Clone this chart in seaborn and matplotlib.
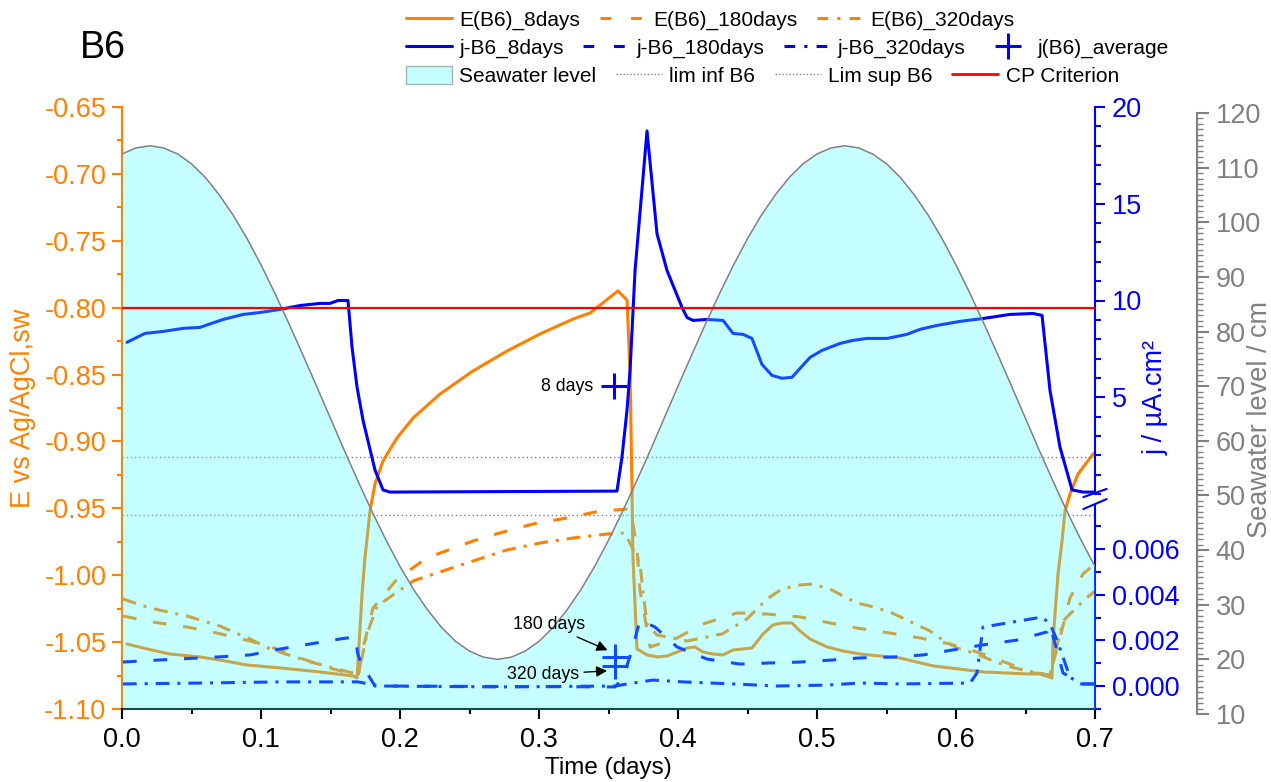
import matplotlib
matplotlib.use("Agg")
import matplotlib.pyplot as plt
from matplotlib.patches import Patch
from matplotlib.lines import Line2D
from matplotlib.ticker import MultipleLocator, FixedLocator, FormatStrFormatter
import seaborn as sns

# ---------------- data ----------------
sea_t = [0.00, 0.01, 0.02, 0.03, 0.04, 0.05, 0.06, 0.07, 0.08, 0.09,
         0.10, 0.11, 0.12, 0.13, 0.14, 0.15, 0.16, 0.17, 0.18, 0.19,
         0.20, 0.21, 0.22, 0.23, 0.24, 0.25, 0.26, 0.27, 0.28, 0.29,
         0.30, 0.31, 0.32, 0.33, 0.34, 0.35, 0.36, 0.37, 0.38, 0.39,
         0.40, 0.41, 0.42, 0.43, 0.44, 0.45, 0.46, 0.47, 0.48, 0.49,
         0.50, 0.51, 0.52, 0.53, 0.54, 0.55, 0.56, 0.57, 0.58, 0.59,
         0.60, 0.61, 0.62, 0.63, 0.64, 0.65, 0.66, 0.67, 0.68, 0.69, 0.70]
sea_level = [112.5, 113.6, 114.0, 113.6, 112.5, 110.7, 108.2, 105.0, 101.3, 97.0,
             92.2, 87.0, 81.5, 75.8, 70.0, 64.1, 58.2, 52.5, 47.0, 41.8,
             37.0, 32.7, 29.0, 25.8, 23.3, 21.5, 20.4, 20.0, 20.4, 21.5,
             23.3, 25.8, 29.0, 32.7, 37.0, 41.8, 47.0, 52.5, 58.2, 64.1,
             70.0, 75.8, 81.5, 87.0, 92.2, 97.0, 101.3, 105.0, 108.2, 110.7,
             112.5, 113.6, 114.0, 113.6, 112.5, 110.7, 108.2, 105.0, 101.3, 97.0,
             92.2, 87.0, 81.5, 75.8, 70.0, 64.1, 58.2, 52.5, 47.0, 41.8, 37.0]

e8_t = [0.0036, 0.018, 0.0345, 0.0561, 0.0705, 0.0899, 0.1137, 0.1424, 0.1662, 0.1691,
        0.1698, 0.1727, 0.1748, 0.1784, 0.182, 0.1878, 0.1978, 0.2094, 0.2288, 0.2525,
        0.277, 0.3007, 0.3245, 0.3367, 0.3568, 0.3633, 0.3655, 0.3669, 0.3676, 0.3705,
        0.3777, 0.3856, 0.3921, 0.4014, 0.4065, 0.4122, 0.418, 0.4252, 0.4324, 0.4396,
        0.4532, 0.4612, 0.4683, 0.4748, 0.482, 0.4878, 0.495, 0.5072, 0.5187, 0.5309,
        0.5597, 0.5835, 0.6194, 0.6511, 0.6604, 0.6691, 0.6698, 0.6734, 0.6763, 0.6784,
        0.682, 0.6878, 0.6986, 0.70]
e8_v = [-1.0514, -1.0551, -1.0589, -1.0611, -1.0634, -1.0671, -1.0693, -1.0723, -1.0753, -1.0768,
        -1.0641, -1.0140, -0.9871, -0.9520, -0.9318, -0.9146, -0.8974, -0.8825, -0.8645, -0.8473,
        -0.8324, -0.8197, -0.8085, -0.8040, -0.7875, -0.7943, -0.8473, -0.9348, -0.9871, -1.0551,
        -1.0596, -1.0611, -1.0604, -1.0566, -1.0544, -1.0536, -1.0574, -1.0589, -1.0596, -1.0559,
        -1.0544, -1.0439, -1.0372, -1.0357, -1.0357, -1.0417, -1.0477, -1.0536, -1.0566, -1.0589,
        -1.0619, -1.0678, -1.0723, -1.0738, -1.0738, -1.0768, -1.0492, -0.9991, -0.9744, -0.9520,
        -0.9393, -0.9243, -0.9094, -0.9086]

e180_t = [0.0007, 0.0223, 0.0468, 0.0683, 0.0921, 0.1115, 0.1302, 0.1518, 0.1662, 0.170,
          0.1734, 0.1806, 0.1978, 0.2194, 0.2525, 0.2719, 0.2957, 0.3201, 0.3439, 0.3655,
          0.3676, 0.3705, 0.3727, 0.3741, 0.3799, 0.3993, 0.418, 0.4424, 0.464, 0.4878,
          0.5094, 0.5288, 0.5525, 0.5741, 0.5957, 0.6173, 0.6367, 0.6554, 0.6676, 0.6748,
          0.682, 0.6914, 0.70]
e180_v = [-1.0305, -1.0350, -1.0387, -1.0432, -1.0492, -1.0551, -1.0626, -1.0701, -1.0738, -1.0753,
          -1.0544, -1.0245, -1.0030, -0.9870, -0.9744, -0.9684, -0.9617, -0.9572, -0.9520, -0.9505,
          -0.9617, -0.9797, -1.0118, -1.0193, -1.0537, -1.0469, -1.0365, -1.0282, -1.0290, -1.0312,
          -1.0357, -1.0395, -1.0432, -1.0469, -1.0514, -1.0581, -1.0656, -1.0731, -1.0738, -1.0469,
          -1.0170, -0.9990, -0.9916]

e320_t = [0.0007, 0.0201, 0.0468, 0.0705, 0.0921, 0.1065, 0.1331, 0.1518, 0.1662, 0.170,
          0.1763, 0.1835, 0.2100, 0.2525, 0.277, 0.3007, 0.3245, 0.3489, 0.3619, 0.3727,
          0.3748, 0.3777, 0.3849, 0.4065, 0.4317, 0.4388, 0.4496, 0.464, 0.4748, 0.4878,
          0.4964, 0.5094, 0.5187, 0.5288, 0.5381, 0.5525, 0.5691, 0.5813, 0.5885, 0.6007,
          0.6151, 0.6266, 0.6367, 0.6511, 0.6626, 0.6676, 0.677, 0.6914, 0.70]
e320_v = [-1.0178, -1.0245, -1.0305, -1.0380, -1.0477, -1.0551, -1.0641, -1.0693, -1.0731, -1.0746,
          -1.0439, -1.0230, -1.0040, -0.9894, -0.9811, -0.9759, -0.9722, -0.9692, -0.9684, -0.9916,
          -1.0118, -1.0365, -1.0447, -1.0492, -1.0439, -1.0395, -1.0327, -1.0178, -1.0103, -1.0073,
          -1.0066, -1.0103, -1.0155, -1.0208, -1.0230, -1.0275, -1.0357, -1.0417, -1.0469, -1.0544,
          -1.0589, -1.0641, -1.0678, -1.0716, -1.0738, -1.0746, -1.0342, -1.0193, -1.0118]

j8_t = [0.0036, 0.0165, 0.0295, 0.0439, 0.0561, 0.0727, 0.0871, 0.0993, 0.1137, 0.1281,
        0.1424, 0.1496, 0.1554, 0.1626, 0.1655, 0.1691, 0.1734, 0.182, 0.1878, 0.1928,
        0.3561, 0.3597, 0.3633, 0.3655, 0.3691, 0.3777, 0.3849, 0.3921, 0.4029, 0.4065,
        0.4108, 0.4209, 0.4324, 0.4396, 0.4468, 0.4532, 0.4604, 0.4676, 0.4748, 0.4820,
        0.4950, 0.5036, 0.5165, 0.5259, 0.5360, 0.5504, 0.5647, 0.5741, 0.5863, 0.6029,
        0.6194, 0.6388, 0.6554, 0.6619, 0.6676, 0.6748, 0.6835, 0.6914, 0.70]
j8_v = [7.84, 8.30, 8.40, 8.56, 8.61, 9.02, 9.28, 9.38, 9.54, 9.74,
        9.85, 9.85, 10.0, 10.0, 7.58, 5.52, 3.81, 1.24, 0.21, 0.10,
        0.15, 1.91, 4.33, 6.39, 11.55, 18.76, 13.45, 11.55, 9.64, 9.12,
        8.97, 9.02, 8.97, 8.30, 8.25, 8.04, 6.70, 6.13, 5.98, 6.03,
        7.06, 7.42, 7.78, 7.94, 8.04, 8.04, 8.25, 8.51, 8.71, 8.92,
        9.07, 9.28, 9.33, 9.23, 5.36, 2.42, 0.21, 0.10, 0.10]

j180_t = [0.0007, 0.0273, 0.0683, 0.0921, 0.1137, 0.1353, 0.1568, 0.1676, 0.1698, 0.1727,
          0.182, 0.3547, 0.3604, 0.3669, 0.3727, 0.3835, 0.3993, 0.4209, 0.4446, 0.4662,
          0.4878, 0.5115, 0.5309, 0.5547, 0.5763, 0.5978, 0.6194, 0.6439, 0.6655, 0.6676,
          0.677, 0.6914, 0.70]
j180_v = [0.00105, 0.00114, 0.00127, 0.00136, 0.00162, 0.00184, 0.00206, 0.00215, 0.00136, 0.00092,
          0.00000, -0.00004, 0.00035, 0.00158, 0.00289, 0.00258, 0.00171, 0.00118, 0.00096, 0.00101,
          0.00105, 0.00114, 0.00123, 0.00127, 0.00136, 0.00158, 0.00180, 0.00201, 0.00237, 0.00267,
          0.00057, 0.00009, 0.00009]

j320_t = [0.0007, 0.0561, 0.1137, 0.1698, 0.1856, 0.2719, 0.3547, 0.3676, 0.3820, 0.4036,
          0.4396, 0.4712, 0.5072, 0.5309, 0.5597, 0.6101, 0.6151, 0.6194, 0.6619, 0.6676,
          0.6727, 0.682, 0.6892, 0.70]
j320_v = [0.00009, 0.00013, 0.00018, 0.00018, 0.00000, -0.00004, 0.00000, 0.00013, 0.00026, 0.00018,
          0.00009, 0.00000, 0.00004, 0.00013, 0.00009, 0.00013, 0.00057, 0.00258, 0.00302, 0.00272,
          0.00201, 0.00039, 0.00009, 0.00009]

avg_labels = ["8 days", "180 days", "320 days"]
avg_t = [0.354, 0.355, 0.355]
avg_j = [5.57, 0.00127, 0.00088]

cp_criterion = -0.80
lim_inf = -0.955
lim_sup = -0.912
full_t = [0.0, 0.7]

x_ticks = [0.0, 0.1, 0.2, 0.3, 0.4, 0.5, 0.6, 0.7]
e_ticks = [-1.10, -1.05, -1.00, -0.95, -0.90, -0.85, -0.80, -0.75, -0.70, -0.65]
j_up_ticks = [5, 10, 15, 20]
j_low_ticks = [0.000, 0.002, 0.004, 0.006]
sea_ticks = [10, 20, 30, 40, 50, 60, 70, 80, 90, 100, 110, 120]

# ---------------- style ----------------
sns.set_theme(style="ticks")
plt.rcParams['font.family'] = ['Liberation Sans', 'DejaVu Sans']
plt.rcParams['axes.unicode_minus'] = False

ORANGE = '#FF8000'
BLUE = '#0000FF'
GRAY = '#808080'
TICK_FS = 19.5

W, H = 1271, 782
fig = plt.figure(figsize=(W / 100, H / 100), dpi=100)
L, Wd = 122 / W, 973 / W
axE = fig.add_axes([L, (H - 709) / H, Wd, 602 / H])
axJu = fig.add_axes([L, (H - 494) / H, Wd, 387 / H])
axJl = fig.add_axes([L, (H - 709) / H, Wd, 204 / H])
axS = fig.add_axes([L, (H - 714) / H, Wd, 601 / H])
for a in (axJu, axJl, axS):
    a.patch.set_visible(False)

DASH = (4.5, 5.5)
DASHDOT = (4.5, 2.6, 1.0, 2.6)


def draw(ax, x, y, color, dashes=None, lw=2.2):
    sns.lineplot(x=x, y=y, ax=ax, color=color, linewidth=lw, sort=False,
                 estimator=None, legend=False)
    ln = ax.lines[-1]
    ln.set_solid_joinstyle('round')
    if dashes is not None:
        ln.set_dashes(dashes)
    return ln


# E lines
draw(axE, e8_t, e8_v, ORANGE)
draw(axE, e180_t, e180_v, ORANGE, DASH)
draw(axE, e320_t, e320_v, ORANGE, DASHDOT)
axE.axhline(lim_inf, color=GRAY, lw=1.0, ls=(0, (1, 2)))
axE.axhline(lim_sup, color=GRAY, lw=1.0, ls=(0, (1, 2)))

# j lines
draw(axJu, j8_t, j8_v, BLUE)
draw(axJl, j180_t, j180_v, BLUE, DASH)
draw(axJl, j320_t, j320_v, BLUE, DASHDOT)
axJu.plot(avg_t[:1], avg_j[:1], ls='none', marker='+', ms=19, mew=2.2, color=BLUE)
axJl.plot(avg_t[1:], avg_j[1:], ls='none', marker='+', ms=19, mew=2.2, color=BLUE)

# limits
for a in (axE, axJu, axJl, axS):
    a.set_xlim(full_t[0], full_t[1])
axE.set_ylim(e_ticks[0], e_ticks[-1])
axJu.set_ylim(0, 20)
axJl.set_ylim(-0.001007, 0.007927)
axS.set_ylim(10, 120)

# seawater (drawn on top with transparency)
poly = axS.fill_between(sea_t, 10, sea_level, color='#40FFFF', alpha=0.3, lw=0)
poly.set_clip_box(axE.bbox)
sns.lineplot(x=sea_t, y=sea_level, ax=axS, color=GRAY, linewidth=1.1, sort=False,
             estimator=None, legend=False)
axS.plot(full_t, [cp_criterion, cp_criterion], color='#FF0000', lw=1.6,
         transform=axE.transData)
axS.set_xlim(full_t[0], full_t[1])
axS.set_ylim(10, 120)

# annotations
ann_fs = 12.8
axS.annotate(avg_labels[0], xy=(avg_t[0], avg_j[0]), xycoords=axJu.transData,
             xytext=(-15, 0), textcoords='offset points', ha='right', va='center',
             fontsize=ann_fs, color='black')
arrow = dict(arrowstyle='-|>', color='black', lw=1.0, mutation_scale=16, shrinkA=1, shrinkB=4)
axS.annotate(avg_labels[1], xy=(avg_t[1] - 0.002, avg_j[1] + 0.0002), xycoords=axJl.transData,
             xytext=(-20, 20), textcoords='offset points', ha='right', va='center',
             fontsize=ann_fs, color='black', arrowprops=arrow)
axS.annotate(avg_labels[2], xy=(avg_t[2] - 0.002, avg_j[2] - 0.0002), xycoords=axJl.transData,
             xytext=(-24, -3), textcoords='offset points', ha='right', va='center',
             fontsize=ann_fs, color='black', arrowprops=arrow)

# ---------------- axes styling ----------------
MAJ = dict(length=7.2, width=1.5)
MIN = dict(length=3.6, width=1.5)

for s in ('top', 'right'):
    axE.spines[s].set_visible(False)
axE.spines['left'].set_color(ORANGE)
axE.spines['left'].set_linewidth(1.5)
axE.spines['bottom'].set_color('black')
axE.spines['bottom'].set_linewidth(1.5)
axE.xaxis.set_major_locator(FixedLocator(x_ticks))
axE.xaxis.set_minor_locator(MultipleLocator(0.05))
axE.xaxis.set_major_formatter(FormatStrFormatter('%.1f'))
axE.yaxis.set_major_locator(FixedLocator(e_ticks))
axE.yaxis.set_minor_locator(MultipleLocator(0.025))
axE.yaxis.set_major_formatter(FormatStrFormatter('%.2f'))
axE.tick_params(axis='x', which='major', direction='out', colors='black', labelsize=TICK_FS, pad=6, **MAJ)
axE.tick_params(axis='x', which='minor', direction='out', colors='black', **MIN)
axE.tick_params(axis='y', which='major', direction='out', colors=ORANGE, labelsize=TICK_FS, pad=4, **MAJ)
axE.tick_params(axis='y', which='minor', direction='out', colors=ORANGE, **MIN)
axE.set_xlabel("Time (days)", fontsize=17.5, color='black')
axE.xaxis.set_label_coords(0.5, -0.08)
axE.set_ylabel("E vs Ag/AgCl,sw", fontsize=TICK_FS, color=ORANGE)
axE.yaxis.set_label_coords(-0.088, 0.5)
axE.grid(False)

for a in (axJu, axJl):
    for s in ('top', 'bottom', 'left'):
        a.spines[s].set_visible(False)
    a.spines['right'].set_color(BLUE)
    a.spines['right'].set_linewidth(1.5)
    a.tick_params(axis='x', bottom=False, labelbottom=False)
    a.yaxis.tick_right()
    a.grid(False)
axJu.yaxis.set_major_locator(FixedLocator(j_up_ticks))
axJu.yaxis.set_minor_locator(MultipleLocator(1))
axJl.yaxis.set_major_locator(FixedLocator(j_low_ticks))
axJl.yaxis.set_minor_locator(MultipleLocator(0.001))
axJl.yaxis.set_major_formatter(FormatStrFormatter('%.3f'))
for a in (axJu, axJl):
    a.tick_params(axis='y', which='major', direction='out', colors=BLUE, labelsize=TICK_FS, pad=5, **MAJ)
    a.tick_params(axis='y', which='minor', direction='out', colors=BLUE, length=4.3, width=1.5)
axJu.yaxis.set_label_position('right')
axJu.set_ylabel("j / µA.cm²", fontsize=TICK_FS, color=BLUE, rotation=90)
axJu.yaxis.set_label_coords(1.049, 0.25)

# break marks
bk = dict(color=BLUE, lw=1.5, clip_on=False)
axJu.plot([1 - 0.012, 1 + 0.012], [-0.008, 0.013], transform=axJu.transAxes, **bk)
axJl.plot([1 - 0.012, 1 + 0.012], [0.980, 1.029], transform=axJl.transAxes, **bk)

# seawater axis
for s in ('top', 'bottom', 'left'):
    axS.spines[s].set_visible(False)
axS.spines['right'].set_position(('outward', 73.4))
axS.spines['right'].set_color(GRAY)
axS.spines['right'].set_linewidth(1.5)
axS.tick_params(axis='x', bottom=False, labelbottom=False)
axS.yaxis.tick_right()
axS.yaxis.set_major_locator(FixedLocator(sea_ticks))
axS.yaxis.set_minor_locator(MultipleLocator(1))
axS.tick_params(axis='y', which='major', direction='out', colors=GRAY, labelsize=TICK_FS, pad=5, length=8.6, width=1.5)
axS.tick_params(axis='y', which='minor', direction='out', colors=GRAY, length=4.3, width=1.0)
axS.yaxis.set_label_position('right')
axS.set_ylabel("Seawater level / cm", fontsize=TICK_FS, color=GRAY, rotation=90)
axS.yaxis.set_label_coords(1.1565, 0.49)
axS.grid(False)

# title
fig.text(80 / W, 1 - 48 / H, "B6", fontsize=27, va='center', ha='left', color='black')

# ---------------- legend (three rows) ----------------
pE8 = Line2D([], [], color=ORANGE, lw=2.2)
pE180 = Line2D([], [], color=ORANGE, lw=2.2, dashes=(3.5, 6.5))
pE320 = Line2D([], [], color=ORANGE, lw=2.2, dashes=(3.5, 3, 1, 3))
pJ8 = Line2D([], [], color=BLUE, lw=2.2)
pJ180 = Line2D([], [], color=BLUE, lw=2.2, dashes=(3.5, 6.5))
pJ320 = Line2D([], [], color=BLUE, lw=2.2, dashes=(3.5, 3, 1, 3))
pAvg = Line2D([], [], color=BLUE, ls='none', marker='+', ms=19, mew=2.2)
pSea = Patch(facecolor='#C6FFFF', edgecolor='#A0B4B4', lw=1.0)
pLi = Line2D([], [], color=GRAY, lw=1.0, ls=(0, (1, 1.5)))
pLs = Line2D([], [], color=GRAY, lw=1.0, ls=(0, (1, 1.5)))
pCP = Line2D([], [], color='#FF0000', lw=2.0)

leg_kw = dict(frameon=False, fontsize=15, handlelength=2.2, handletextpad=0.35,
              columnspacing=0.95, borderpad=0, borderaxespad=0, loc='center left',
              handleheight=1.0)
rows = [
    ([pE8, pE180, pE320], ["E(B6)_8days", "E(B6)_180days", "E(B6)_320days"], 20),
    ([pJ8, pJ180, pJ320, pAvg], ["j-B6_8days", "j-B6_180days", "j-B6_320days", "j(B6)_average"], 48),
    ([pSea, pLi, pLs, pCP], ["Seawater level", "lim inf B6", "Lim sup B6", "CP Criterion"], 76),
]
for hs, ls_, ypx in rows:
    lg = fig.legend(hs, ls_, ncol=len(hs), bbox_to_anchor=(406 / W, 1 - ypx / H), **leg_kw)
    for t in lg.get_texts():
        t.set_color('black')

fig.savefig("out.png", dpi=100)
